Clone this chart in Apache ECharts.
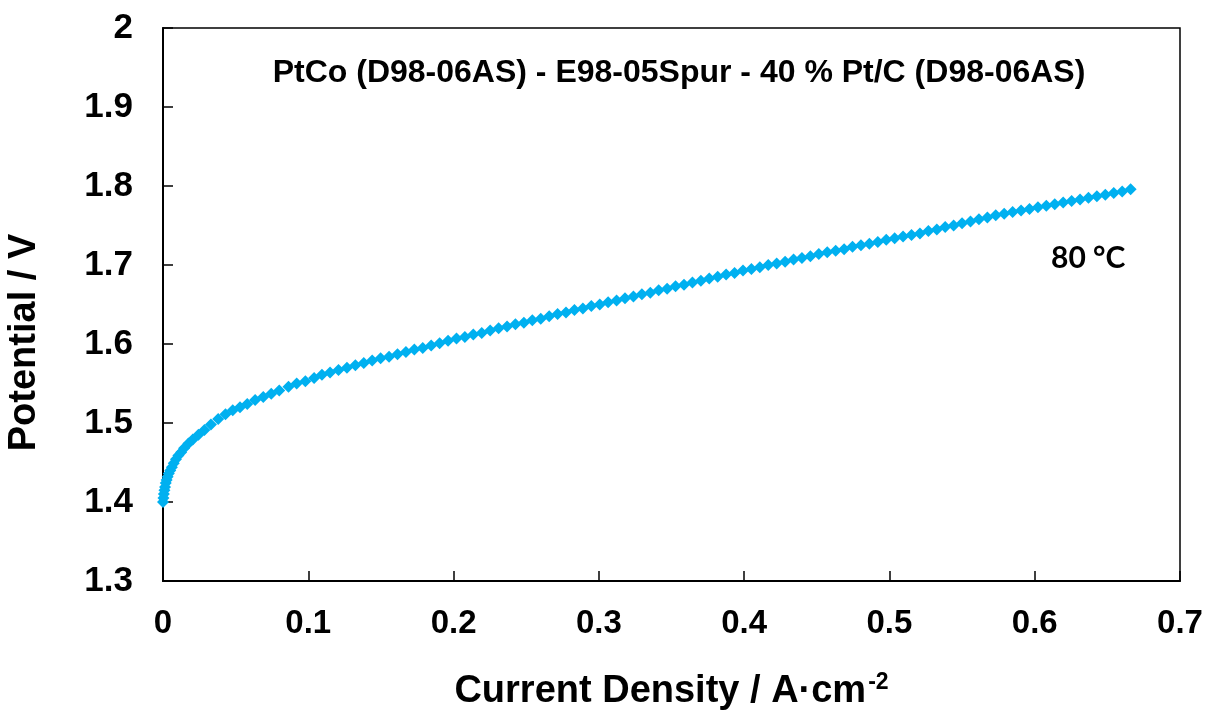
<!DOCTYPE html>
<html>
<head>
<meta charset="utf-8">
<script src="https://cdn.jsdelivr.net/npm/echarts@6/dist/echarts.min.js"></script>
<style>
  html, body { margin: 0; padding: 0; background: #fff; }
  #chart { width: 1205px; height: 711px; }
</style>
</head>
<body>
<div id="chart"></div>
<script>
// Polarization curve of the electrolysis cell at 80 °C
const currentDensity = [
  0.0000, 0.0003, 0.0006, 0.0010, 0.0014, 0.0019, 0.0025, 0.0032, 0.0040, 0.0050,
  0.0061, 0.0074, 0.0089, 0.0106, 0.0125, 0.0145, 0.0175, 0.0205, 0.0244, 0.0285,
  0.0330, 0.0380, 0.0430, 0.0480, 0.0530, 0.0580, 0.0634, 0.0690, 0.0745, 0.0800,
  0.0864, 0.0920, 0.0980, 0.1040, 0.1094, 0.1150, 0.1208, 0.1266, 0.1324, 0.1382,
  0.1440, 0.1498, 0.1556, 0.1614, 0.1672, 0.1730, 0.1788, 0.1846, 0.1904, 0.1962,
  0.2020, 0.2078, 0.2136, 0.2194, 0.2252, 0.2310, 0.2368, 0.2426, 0.2484, 0.2542,
  0.2600, 0.2658, 0.2716, 0.2774, 0.2832, 0.2890, 0.2948, 0.3006, 0.3064, 0.3122,
  0.3180, 0.3238, 0.3296, 0.3354, 0.3412, 0.3470, 0.3528, 0.3586, 0.3644, 0.3702,
  0.3760, 0.3818, 0.3876, 0.3934, 0.3992, 0.4050, 0.4108, 0.4166, 0.4224, 0.4282,
  0.4340, 0.4398, 0.4456, 0.4514, 0.4572, 0.4630, 0.4688, 0.4746, 0.4804, 0.4862,
  0.4920, 0.4978, 0.5036, 0.5094, 0.5152, 0.5210, 0.5268, 0.5326, 0.5384, 0.5442,
  0.5500, 0.5558, 0.5616, 0.5674, 0.5732, 0.5790, 0.5848, 0.5906, 0.5964, 0.6022,
  0.6080, 0.6138, 0.6196, 0.6254, 0.6312, 0.6370, 0.6428, 0.6486, 0.6544, 0.6602,
  0.6660
];
const potential = [
  1.400, 1.405, 1.410, 1.415, 1.419, 1.424, 1.428, 1.432, 1.436, 1.440,
  1.444, 1.449, 1.454, 1.459, 1.463, 1.468, 1.474, 1.479, 1.485, 1.491,
  1.498, 1.505, 1.511, 1.516, 1.520, 1.524, 1.529, 1.533, 1.537, 1.541,
  1.546, 1.550, 1.553, 1.557, 1.561, 1.564, 1.567, 1.570, 1.573, 1.576,
  1.579, 1.582, 1.584, 1.587, 1.590, 1.593, 1.595, 1.598, 1.601, 1.604,
  1.607, 1.609, 1.612, 1.614, 1.617, 1.620, 1.622, 1.625, 1.627, 1.630,
  1.632, 1.635, 1.638, 1.640, 1.643, 1.645, 1.648, 1.650, 1.653, 1.655,
  1.658, 1.660, 1.663, 1.665, 1.668, 1.670, 1.673, 1.675, 1.678, 1.680,
  1.683, 1.685, 1.688, 1.690, 1.693, 1.695, 1.697, 1.700, 1.702, 1.704,
  1.707, 1.709, 1.711, 1.714, 1.716, 1.718, 1.720, 1.723, 1.725, 1.727,
  1.729, 1.732, 1.734, 1.736, 1.738, 1.740, 1.743, 1.745, 1.748, 1.750,
  1.753, 1.755, 1.758, 1.760, 1.763, 1.765, 1.767, 1.769, 1.771, 1.773,
  1.775, 1.777, 1.779, 1.781, 1.783, 1.785, 1.787, 1.789, 1.791, 1.793,
  1.796
];
const xTickLabels = ['0', '0.1', '0.2', '0.3', '0.4', '0.5', '0.6', '0.7'];
const yTickLabels = ['1.3', '1.4', '1.5', '1.6', '1.7', '1.8', '1.9', '2'];
const chartTitle = 'PtCo (D98-06AS) - E98-05Spur - 40 % Pt/C (D98-06AS)';
const tempLabel = '80 °C';

const points = currentDensity.map((j, i) => [j, potential[i]]);

const chart = echarts.init(document.getElementById('chart'), null, { renderer: 'canvas' });
const axisFont = '"Liberation Sans", Arial, sans-serif';

chart.setOption({
  backgroundColor: '#ffffff',
  animation: false,
  title: [
    {
      text: chartTitle,
      left: 674, top: 52, textAlign: 'center',
      textStyle: { fontFamily: axisFont, fontWeight: 'bold', fontSize: 32, color: '#000' }
    },
    {
      text: tempLabel,
      left: 1046, top: 238,
      textStyle: { fontFamily: 'Lato, "Open Sans", sans-serif', fontWeight: 'bold', fontSize: 30, color: '#000' }
    }
  ],
  grid: {
    left: 163, right: 25, top: 28, bottom: 130,
    outerBoundsMode: 'none',
    containLabel: false,
    show: true, borderColor: '#000', borderWidth: 1.5, backgroundColor: 'transparent'
  },
  xAxis: {
    type: 'value', min: 0, max: 0.7, interval: 0.1,
    axisLine: { show: true, lineStyle: { color: '#000', width: 2 } },
    axisTick: { show: true, inside: true, length: 10, lineStyle: { color: '#000', width: 1.5 } },
    splitLine: { show: false },
    axisLabel: {
      margin: 26, color: '#000', fontFamily: axisFont, fontWeight: 'bold', fontSize: 33,
      formatter: (v) => xTickLabels[Math.round(v * 10)]
    },
    name: '{a|Current Density / A·cm}{s|-2}',
    nameLocation: 'middle', nameGap: 90,
    nameTextStyle: {
      rich: {
        a: { fontFamily: axisFont, fontWeight: 'bold', fontSize: 38, color: '#000' },
        s: { fontFamily: axisFont, fontWeight: 'bold', fontSize: 23, color: '#000', verticalAlign: 'top', padding: [0, 0, 18, 2] }
      }
    }
  },
  yAxis: {
    type: 'value', min: 1.3, max: 2, interval: 0.1,
    axisLine: { show: true, lineStyle: { color: '#000', width: 2 } },
    axisTick: { show: true, inside: true, length: 10, lineStyle: { color: '#000', width: 1.5 } },
    splitLine: { show: false },
    axisLabel: {
      margin: 30, color: '#000', fontFamily: axisFont, fontWeight: 'bold', fontSize: 35,
      formatter: (v) => yTickLabels[Math.round((v - 1.3) * 10)]
    },
    name: 'Potential / V',
    nameLocation: 'middle', nameGap: 119, nameRotate: 90,
    nameTextStyle: { fontFamily: axisFont, fontWeight: 'bold', fontSize: 38, color: '#000', padding: [0, 76, 0, 0] }
  },
  series: [{
    type: 'line',
    data: points,
    showSymbol: true,
    symbol: 'diamond',
    symbolSize: [12, 12],
    lineStyle: { width: 0, opacity: 0 },
    itemStyle: { color: '#00B0F0', borderWidth: 0 },
    silent: true,
    clip: false
  }]
});
</script>
</body>
</html>
